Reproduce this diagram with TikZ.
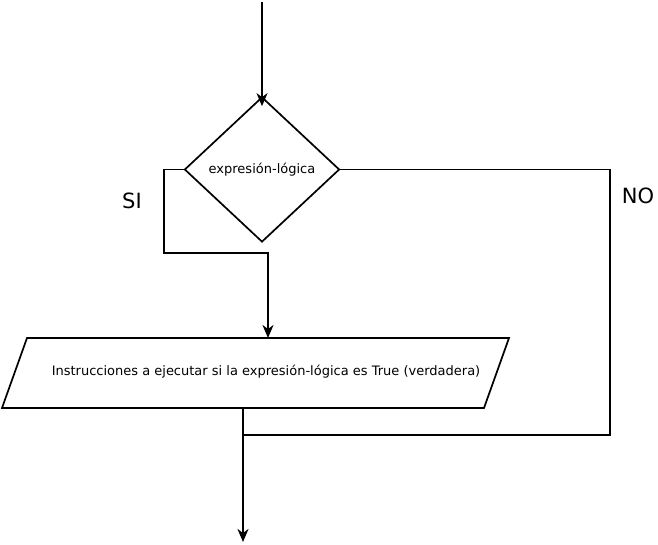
\documentclass[tikz,border=0pt]{standalone}
\usepackage{fontspec}
\setmainfont{DejaVu Sans}
\usetikzlibrary{shapes.geometric,arrows.meta}
\begin{document}
\begin{tikzpicture}[x=1pt,y=-1pt,
  line width=1.7pt,line join=miter,
  arr/.style={-{Stealth[length=13pt,width=11pt,inset=4pt]}},
  smalltxt/.style={font=\fontsize{13}{15}\selectfont},
  bigtxt/.style={font=\fontsize{21}{25}\selectfont},
  decision/.style={diamond,draw,minimum width=155pt,minimum height=145pt,inner sep=0pt,smalltxt}]
\useasboundingbox (0,0) rectangle (658,545);
\node[decision] (d) at (262,169.5) {expresión-lógica};
% input/output parallelogram
\coordinate (pTL) at (27,338);
\coordinate (pTR) at (509,338);
\coordinate (pBR) at (484,408);
\coordinate (pBL) at (2,408);
\draw (pTL) -- (pTR) -- (pBR) -- (pBL) -- cycle;
\node[smalltxt] (ptxt) at (266,372) {Instrucciones a ejecutar si la expresión-lógica es True (verdadera)};
\coordinate (ptop) at (268,338);
\coordinate (pbot) at (243,408);
\coordinate (start) at (262,2);
\coordinate (end) at (243,542);
\coordinate (sw) at (164,169.5);
\coordinate (ne) at (610,169.5);
\coordinate (join) at (243,435);
\draw[arr] (start) -- ([yshift=-10pt]d.north);
\draw[arr] (d.west) -- (sw) -- (164,253) -- (268,253) -- (ptop);
\draw (d.east) -- (ne) -- (610,435) -- (join);
\draw[arr] (pbot) -- (end);
\node[bigtxt] (si) at (132,201) {SI};
\node[bigtxt] (no) at (638,196) {NO};
\end{tikzpicture}
\end{document}
